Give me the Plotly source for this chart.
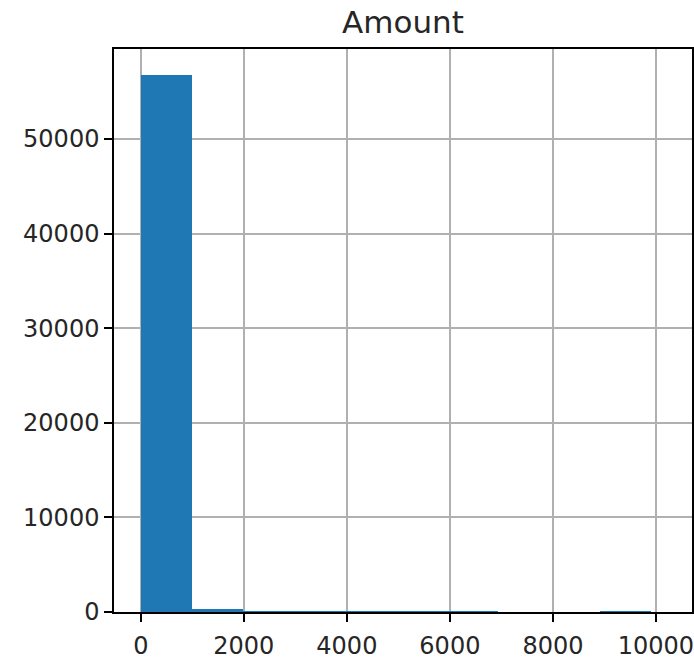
import plotly.graph_objects as go

title_text = "Amount"
bin_edges = [0, 990, 1980, 2970, 3960, 4950, 5940, 6930, 7920, 8910, 9900]
counts = [56800, 330, 25, 8, 4, 2, 1, 0, 0, 1]
x_ticks = [0, 2000, 4000, 6000, 8000, 10000]
y_ticks = [0, 10000, 20000, 30000, 40000, 50000]
x_range = [-520, 10700]
y_range = [0, 59500]

centers = [(a + b) / 2 for a, b in zip(bin_edges[:-1], bin_edges[1:])]
widths = [b - a for a, b in zip(bin_edges[:-1], bin_edges[1:])]

fig = go.Figure(go.Bar(x=centers, y=counts, width=widths,
                       marker=dict(color="#1f77b4", line=dict(width=0))))

axis_common = dict(showline=True, linecolor="#000000", linewidth=1.5, mirror=True,
                   ticks="outside", ticklen=8, tickwidth=1.5, tickcolor="#000000",
                   showgrid=True, gridcolor="#b0b0b0", gridwidth=1.5, zeroline=False,
                   automargin=False, ticklabeloverflow="allow",
                   layer="above traces",
                   tickfont=dict(family="DejaVu Sans", size=24, color="#262626"))

fig.update_layout(
    width=694, height=660,
    margin=dict(l=114, r=2, t=49, b=48),
    paper_bgcolor="white", plot_bgcolor="white",
    bargap=0, showlegend=False,
    title=dict(text=title_text, x=(114 + 692) / 2 / 694, xanchor="center",
               y=1 - 22 / 660, yanchor="middle", yref="container", automargin=False,
               font=dict(family="DejaVu Sans", size=31, color="#262626")),
    xaxis=dict(range=x_range, tickvals=x_ticks, ticklabelstandoff=3,
               ticktext=[str(v) for v in x_ticks], **axis_common),
    yaxis=dict(range=y_range, tickvals=y_ticks,
               ticktext=[str(v) for v in y_ticks], **axis_common),
)

fig.write_html(
    "out.html",
    config={"displayModeBar": False},
    post_script="document.body.style.margin='0';document.body.style.overflow='hidden';",
)
